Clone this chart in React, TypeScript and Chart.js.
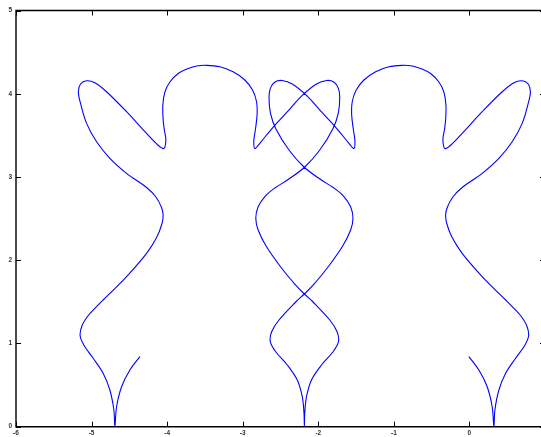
import React, { useEffect, useRef } from "react";
import { Chart, registerables } from "chart.js";

Chart.register(...registerables);

const xTicks = [-6, -5, -4, -3, -2, -1, 0, 1];
const yTicks = [0, 1, 2, 3, 4, 5];

// Left dancer: free foot, cusp, body, raised arm, head
const leftFigureX = [
  -4.361, -4.493, -4.603, -4.669, -4.692, -4.705, -4.758, -4.847, -4.979, -5.095,
  -5.151, -5.128, -5.049, -4.956, -4.847, -4.692, -4.537, -4.272, -4.136, -4.07,
  -4.053, -4.077, -4.149, -4.272, -4.537, -4.758, -4.934, -5.066, -5.146, -5.175,
  -5.146, -5.066, -4.956, -4.802, -4.537, -4.272, -4.123, -4.044, -4.017, -4.037,
  -4.053, -4.057, -4.03, -3.964, -3.854, -3.739, -3.611, -3.479, -3.303, -3.127,
  -2.972, -2.87, -2.817, -2.81, -2.833, -2.853, -2.84,
];
const leftFigureY = [
  0.841, 0.681, 0.48, 0.24, 0, 0.201, 0.441, 0.641, 0.822, 0.969,
  1.089, 1.21, 1.33, 1.422, 1.522, 1.66, 1.802, 2.083, 2.279, 2.435,
  2.543, 2.639, 2.759, 2.873, 3.044, 3.224, 3.423, 3.644, 3.885, 4.024,
  4.117, 4.156, 4.132, 4.024, 3.784, 3.524, 3.384, 3.342, 3.444, 3.564,
  3.684, 3.864, 4.02, 4.141, 4.243, 4.297, 4.333, 4.341, 4.324, 4.264,
  4.165, 4.044, 3.904, 3.744, 3.564, 3.432, 3.342,
];

// Centre: the two crossing loops, the body and the middle cusp
const centreX = [
  -2.774, -2.641, -2.549, -2.377, -2.222, -2.024, -1.888, -1.795, -1.735, -1.716,
  -1.735, -1.808, -1.98, -2.179, -2.399, -2.575, -2.701, -2.796, -2.827, -2.796,
  -2.685, -2.466, -2.311, -2.184, -2.069, -1.848, -1.751, -1.733, -1.804, -1.958,
  -2.09, -2.156, -2.179, -2.184,
  -2.189, -2.212, -2.278, -2.41, -2.564, -2.635, -2.617, -2.52, -2.299, -2.184,
  -2.057, -1.902, -1.683, -1.572, -1.541, -1.572, -1.667, -1.793, -1.969, -2.189,
  -2.388, -2.56, -2.633, -2.652, -2.633, -2.573, -2.48, -2.344, -2.146, -1.991,
  -1.819, -1.727, -1.594,
];
const centreY = [
  3.404, 3.552, 3.648, 3.816, 3.972, 4.117, 4.159, 4.141, 4.068, 3.96,
  3.768, 3.576, 3.324, 3.12, 2.969, 2.867, 2.771, 2.643, 2.503, 2.363,
  2.162, 1.882, 1.714, 1.594, 1.498, 1.282, 1.141, 1.021, 0.901, 0.741,
  0.561, 0.36, 0.161, 0,
  0.161, 0.36, 0.561, 0.741, 0.901, 1.021, 1.141, 1.282, 1.498, 1.594,
  1.714, 1.882, 2.162, 2.363, 2.503, 2.643, 2.771, 2.867, 2.969, 3.12,
  3.324, 3.576, 3.768, 3.96, 4.068, 4.141, 4.159, 4.117, 3.972, 3.816,
  3.648, 3.552, 3.404,
];

// Right dancer: head, raised arm, body, cusp, free foot
const rightFigureX = [
  -1.528, -1.515, -1.535, -1.558, -1.551, -1.498, -1.396, -1.241, -1.065, -0.889,
  -0.757, -0.629, -0.514, -0.404, -0.338, -0.311, -0.315, -0.331, -0.351, -0.324,
  -0.245, -0.096, 0.169, 0.434, 0.588, 0.698, 0.778, 0.807, 0.778, 0.698,
  0.566, 0.39, 0.169, -0.096, -0.219, -0.291, -0.315, -0.298, -0.232, -0.096,
  0.169, 0.324, 0.479, 0.588, 0.681, 0.76, 0.783, 0.727, 0.611, 0.479,
  0.39, 0.337, 0.324, 0.301, 0.235, 0.125, -0.007,
];
const rightFigureY = [
  3.342, 3.432, 3.564, 3.744, 3.904, 4.044, 4.165, 4.264, 4.324, 4.341,
  4.333, 4.297, 4.243, 4.141, 4.02, 3.864, 3.684, 3.564, 3.444, 3.342,
  3.384, 3.524, 3.784, 4.024, 4.132, 4.156, 4.117, 4.024, 3.885, 3.644,
  3.423, 3.224, 3.044, 2.873, 2.759, 2.639, 2.543, 2.435, 2.279, 2.083,
  1.802, 1.66, 1.522, 1.422, 1.33, 1.21, 1.089, 0.969, 0.822, 0.641,
  0.441, 0.201, 0, 0.24, 0.48, 0.681, 0.841,
];

const CANVAS_W = 548;
const CANVAS_H = 437;

function buildPoints() {
  const xs = [...leftFigureX, ...centreX, ...rightFigureX];
  const ys = [...leftFigureY, ...centreY, ...rightFigureY];
  return xs.map((x, i) => ({ x, y: ys[i] }));
}

// Box frame with inward tick marks on all four sides, plus tick labels
const framePlugin = {
  id: "gnuFrame",
  afterDatasetsDraw(chart: any) {
    const { ctx, chartArea: a, scales } = chart;
    const sx = scales.x;
    const sy = scales.y;
    ctx.save();
    ctx.strokeStyle = "#000";
    ctx.lineWidth = 1.4;
    ctx.beginPath();
    ctx.rect(a.left, a.top, a.right - a.left, a.bottom - a.top);
    ctx.stroke();

    ctx.lineWidth = 1;
    ctx.beginPath();
    const tick = 5;
    for (const v of xTicks) {
      const px = Math.round(sx.getPixelForValue(v)) + 0.5;
      ctx.moveTo(px, a.bottom);
      ctx.lineTo(px, a.bottom - tick);
      ctx.moveTo(px, a.top);
      ctx.lineTo(px, a.top + tick);
    }
    for (const v of yTicks) {
      const py = Math.round(sy.getPixelForValue(v)) + 0.5;
      ctx.moveTo(a.left, py);
      ctx.lineTo(a.left + tick, py);
      ctx.moveTo(a.right, py);
      ctx.lineTo(a.right - tick, py);
    }
    ctx.stroke();

    ctx.fillStyle = "#333";
    ctx.font = "bold 6.5px 'Liberation Sans', Arial, sans-serif";
    ctx.textAlign = "center";
    ctx.textBaseline = "top";
    for (const v of xTicks) {
      ctx.fillText(String(v), sx.getPixelForValue(v), a.bottom + 3.5);
    }
    ctx.textAlign = "right";
    ctx.textBaseline = "middle";
    for (const v of yTicks) {
      ctx.fillText(String(v), a.left - 4, sy.getPixelForValue(v));
    }
    ctx.restore();
  },
};

export default function App() {
  const canvasRef = useRef<HTMLCanvasElement | null>(null);

  useEffect(() => {
    const canvas = canvasRef.current;
    if (!canvas) return;
    const chart = new Chart(canvas, {
      type: "scatter",
      data: {
        datasets: [
          {
            data: buildPoints(),
            showLine: true,
            borderColor: "#0000ff",
            borderWidth: 1.1,
            pointRadius: 0,
            pointHoverRadius: 0,
            tension: 0.35,
            fill: false,
          },
        ],
      },
      options: {
        animation: false,
        responsive: false,
        devicePixelRatio: 1,
        events: [],
        layout: { padding: { left: 0, right: 3, top: 10.5, bottom: 0 } },
        plugins: { legend: { display: false }, tooltip: { enabled: false } },
        scales: {
          x: {
            type: "linear",
            min: -6,
            max: 1,
            ticks: { display: false, stepSize: 1 },
            grid: { display: false },
            border: { display: false },
            afterFit: (s: any) => {
              s.height = 10.3;
            },
          },
          y: {
            type: "linear",
            min: 0,
            max: 5,
            ticks: { display: false, stepSize: 1 },
            grid: { display: false },
            border: { display: false },
            afterFit: (s: any) => {
              s.width = 16;
            },
          },
        },
      },
      plugins: [framePlugin],
    } as any);
    return () => chart.destroy();
  }, []);

  return (
    <div
      style={{
        position: "fixed",
        left: 0,
        top: 0,
        width: 541,
        height: 437,
        overflow: "hidden",
        background: "#fff",
      }}
    >
      <canvas
        ref={canvasRef}
        width={CANVAS_W}
        height={CANVAS_H}
        style={{ display: "block", width: CANVAS_W, height: CANVAS_H }}
      />
    </div>
  );
}
